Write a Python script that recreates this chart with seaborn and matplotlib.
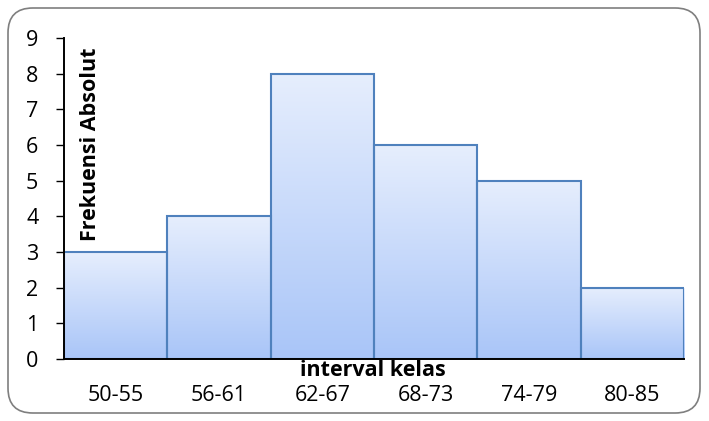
import numpy as np
import pandas as pd
import matplotlib
matplotlib.use("Agg")
import matplotlib.pyplot as plt
import seaborn as sns
from matplotlib.patches import FancyBboxPatch
from matplotlib.colors import LinearSegmentedColormap

# data
intervals = ["50-55", "56-61", "62-67", "68-73", "74-79", "80-85"]
freq = [3, 4, 8, 6, 5, 2]
yticks = list(range(0, 10))

df = pd.DataFrame({"interval": intervals, "freq": freq})

sns.set_style("white")
plt.rcParams["font.family"] = ["Open Sans", "DejaVu Sans"]
plt.rcParams["text.color"] = "black"
plt.rcParams["xtick.color"] = "black"
plt.rcParams["ytick.color"] = "black"

fig = plt.figure(figsize=(7.09, 4.21), dpi=100)
ax = fig.add_axes([0.0903, 0.1473, 0.8744, 0.7624])

sns.barplot(x="interval", y="freq", data=df, ax=ax, width=1.0,
            color="#c6d9fb", edgecolor="#4f81bd", linewidth=1.5, zorder=2)

# per-bar vertical gradient like the excel fill
cmap = LinearSegmentedColormap.from_list("grad", ["#a9c5f8", "#e6eefd"])
grad = np.linspace(0, 1, 256).reshape(-1, 1)
for p in ax.patches:
    x0, y0 = p.get_x(), p.get_y()
    w, h = p.get_width(), p.get_height()
    im = ax.imshow(grad, cmap=cmap, origin="lower", aspect="auto",
                   extent=[x0, x0 + w, y0, y0 + h], zorder=2.5)
    im.set_clip_path(p)
    p.set_facecolor("none")
    p.set_zorder(3)

ax.set_xlim(-0.5, len(intervals) - 0.5)
ax.set_ylim(0, 9)
ax.set_yticks(yticks)
ax.set_yticklabels([str(t) for t in yticks])

for s in ["top", "right"]:
    ax.spines[s].set_visible(False)
for s in ["left", "bottom"]:
    ax.spines[s].set_color("black")
    ax.spines[s].set_linewidth(1.4)
    ax.spines[s].set_zorder(4)

ax.tick_params(axis="y", direction="out", length=5.5, width=1, color="black",
               labelsize=15.5, pad=13, left=True, labelcolor="black")
ax.tick_params(axis="x", length=0, labelsize=15.5, pad=19, labelcolor="black")

ax.set_xlabel("")
ax.set_ylabel("")
fig.text(91 / 709, 1 - 144 / 421, "Frekuensi Absolut", rotation=90,
         fontsize=15.5, fontweight="bold", ha="center", va="center")
fig.text(373 / 709, 1 - 371 / 421, "interval kelas",
         fontsize=15.5, fontweight="bold", ha="center", va="center")

# rounded chart-area border
border = FancyBboxPatch((8 / 709, 8 / 421), 692 / 709, 405 / 421,
                        boxstyle="round,pad=0,rounding_size=0.035",
                        transform=fig.transFigure, fill=False,
                        edgecolor="#7f7f7f", linewidth=1.2,
                        mutation_aspect=709 / 421)
fig.patches.append(border)

fig.savefig("out.png", dpi=100)
